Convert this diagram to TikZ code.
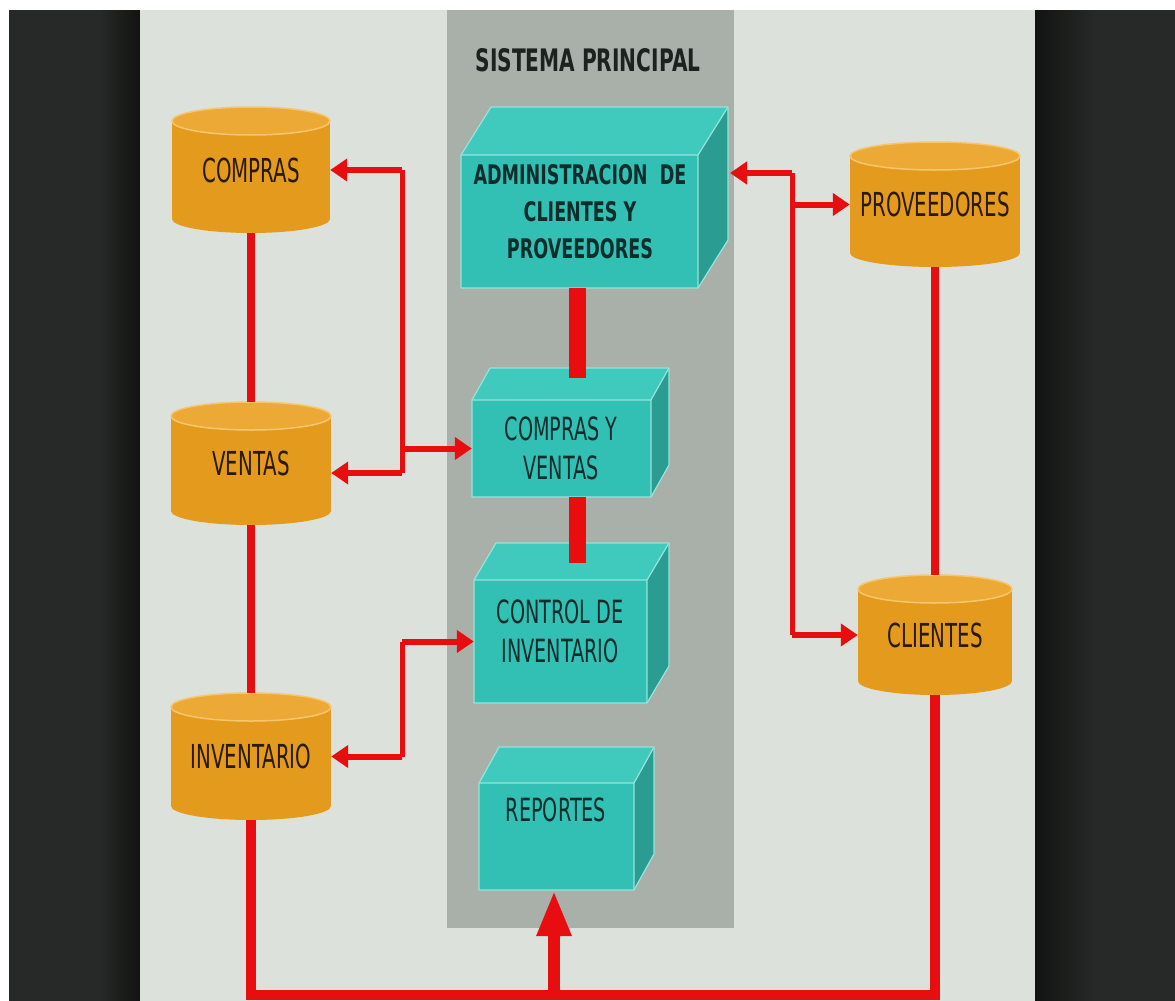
\documentclass[tikz,border=0pt]{standalone}
\usepackage{fontspec}
\setmainfont{DejaVu Sans}
\newfontfamily\cnd[FakeStretch=0.65]{DejaVu Sans}
\newfontfamily\cnda[FakeStretch=0.6]{DejaVu Sans}
\usetikzlibrary{arrows.meta,calc}
\definecolor{redc}{RGB}{232,14,16}
\definecolor{darkbg}{RGB}{38,41,39}
\definecolor{darkest}{RGB}{18,19,18}
\definecolor{lightbg}{RGB}{220,225,220}
\definecolor{colbg}{RGB}{168,176,169}
\definecolor{cylbodyc}{RGB}{228,154,28}
\definecolor{cyltopc}{RGB}{236,169,53}
\definecolor{cylrimc}{RGB}{246,198,110}
\definecolor{cyltextc}{RGB}{40,26,6}
\definecolor{frontc}{RGB}{51,192,180}
\definecolor{topc}{RGB}{64,202,189}
\definecolor{sidec}{RGB}{42,156,146}
\definecolor{edgec}{RGB}{150,228,220}
\definecolor{boxtextc}{RGB}{14,44,42}
\definecolor{titlec}{RGB}{28,34,30}

\newcommand\cyl[6]{% name, cx, top, bottom, rx, text
  \fill[cylbodyc] (#2-#5,#3+14) rectangle (#2+#5,#4-14);
  \fill[cylbodyc] (#2,#4-14) ellipse [x radius=#5, y radius=14];
  \filldraw[fill=cyltopc, draw=cylrimc, line width=1.5pt] (#2,#3+14) ellipse [x radius=#5, y radius=14];
  \node[cyltext, minimum width={2*#5}, minimum height={#4-#3}] (#1) at (#2,{(#3+#4)/2}) {#6};
}
\newcommand\cube[7]{% name, x1, y1, x2, y2, dx, depth
  \fill[topc] (#2,#3) -- (#2+#6,#3-#7) -- (#4+#6,#3-#7) -- (#4,#3) -- cycle;
  \fill[sidec] (#4,#3) -- (#4+#6,#3-#7) -- (#4+#6,#5-#7) -- (#4,#5) -- cycle;
  \node[boxfront, minimum width={#4-#2}, minimum height={#5-#3}] (#1) at ({(#2+#4)/2},{(#3+#5)/2}) {};
  \draw[boxedge] (#2,#5) -- (#2,#3) -- (#2+#6,#3-#7) -- (#4+#6,#3-#7) -- (#4+#6,#5-#7) -- (#4,#5) -- cycle;
  \draw[boxedge] (#2,#3) -- (#4,#3) -- (#4+#6,#3-#7) (#4,#3) -- (#4,#5);
}

\begin{document}
\begin{tikzpicture}[x=1pt,y=-1pt,
  cyltext/.style={inner sep=0pt, text=cyltextc, font=\cnda\fontsize{33}{38}\selectfont},
  boxfront/.style={fill=frontc, inner sep=0pt},
  boxedge/.style={draw=edgec, line width=1.2pt, line join=round},
  boxtext/.style={text=boxtextc, align=center, inner sep=0pt, font=\cnda\fontsize{32}{39}\selectfont},
  boldtext/.style={text=boxtextc, align=center, inner sep=0pt, font=\cnd\bfseries\fontsize{27}{37}\selectfont},
  link/.style={draw=redc, line width=8pt},
  route/.style={draw=redc, line width=5pt},
  arr/.style={draw=redc, fill=redc, line width=6pt, -{Triangle[length=17pt,width=22pt]}},
  bar/.style={draw=redc, line width=17pt},
  bus/.style={draw=redc, line width=10pt},
  bigarr/.style={draw=redc, fill=redc, line width=12pt, -{Triangle[length=46pt,width=32pt]}}
]
\useasboundingbox (0,0) rectangle (1175,1001);
% backgrounds
\fill[white] (0,0) rectangle (1175,1001);
\fill[darkbg] (9,10) rectangle (100,1001);
\shade[left color=darkbg, right color=darkest] (99.5,10) rectangle (140,1001);
\shade[left color=darkest, right color=darkbg] (1035,10) rectangle (1095,1001);
\fill[darkbg] (1094.5,10) rectangle (1175,1001);
\fill[lightbg] (140,10) rectangle (1035,1001);
\fill[colbg] (447,10) rectangle (734,928);

\node[text=titlec, inner sep=0pt, font=\cnd\bfseries\fontsize{31}{36}\selectfont] (title) at (588,60) {SISTEMA PRINCIPAL};

% cylinders
\cyl{compras}{251}{107}{233}{79}{COMPRAS}
\cyl{ventas}{251}{402}{525}{80}{VENTAS}
\cyl{inventario}{251}{693}{820}{80}{INVENTARIO}
\cyl{proveedores}{935}{142}{267}{85}{PROVEEDORES}
\cyl{clientes}{935}{575}{695}{77}{CLIENTES}

% boxes
\cube{admin}{461}{155}{698}{288}{30}{48}
\cube{cyv}{472}{400}{651}{497}{18}{32}
\cube{control}{474}{580}{647}{703}{22}{37}
\cube{reportes}{479}{783}{634}{890}{20}{36}

\node[boldtext] (adminT) at (580,212) {ADMINISTRACION\ \ DE\\CLIENTES Y\\PROVEEDORES};
\node[boxtext] (cyvT) at (561,448) {COMPRAS Y\\VENTAS};
\node[boxtext] (controlT) at (560,631) {CONTROL DE\\INVENTARIO};
\node[boxtext] (reportesT) at (556,810) {REPORTES};

% coordinates for routing
\coordinate (lt) at (402,170);
\coordinate (lb) at (402,473);
\coordinate (ct) at (402,641.5);
\coordinate (cb) at (402,756.5);
\coordinate (rt) at (792,173);
\coordinate (rb) at (792,635);
\coordinate (admside) at (730,173);
\coordinate (bus) at (554,995);
\coordinate (b1) at (577,378);
\coordinate (b2) at (577,563);

% connectors
\draw[link] (compras.south) -- (ventas.north);
\draw[link] (ventas.south) -- (inventario.north);
\draw[link] (proveedores.south) -- (clientes.north);
\draw[bus, line join=miter] (inventario.south) |- (bus) -| (clientes.south);
\draw[bigarr] (bus) -- (bus |- reportes.south);

\draw[route] (lt) -- (lb);
\draw[arr] (lt) -- (compras.east);
\draw[arr] (lb) -- (ventas.east |- lb);
\draw[arr] (cyv.west -| lt) -- (cyv.west);
\draw[route] (ct) -- (cb);
\draw[arr] (ct) -- (control.west);
\draw[arr] (cb) -- (inventario.east);

\draw[route] (rt) -- (rb);
\draw[arr] (rt) -- (admside);
\draw[arr] (proveedores.west -| rt) -- (proveedores.west);
\draw[arr] (rb) -- (clientes.west);

\draw[bar] (admin.south -| b1) -- (b1);
\draw[bar] (cyv.south -| b2) -- (b2);
\end{tikzpicture}
\end{document}
